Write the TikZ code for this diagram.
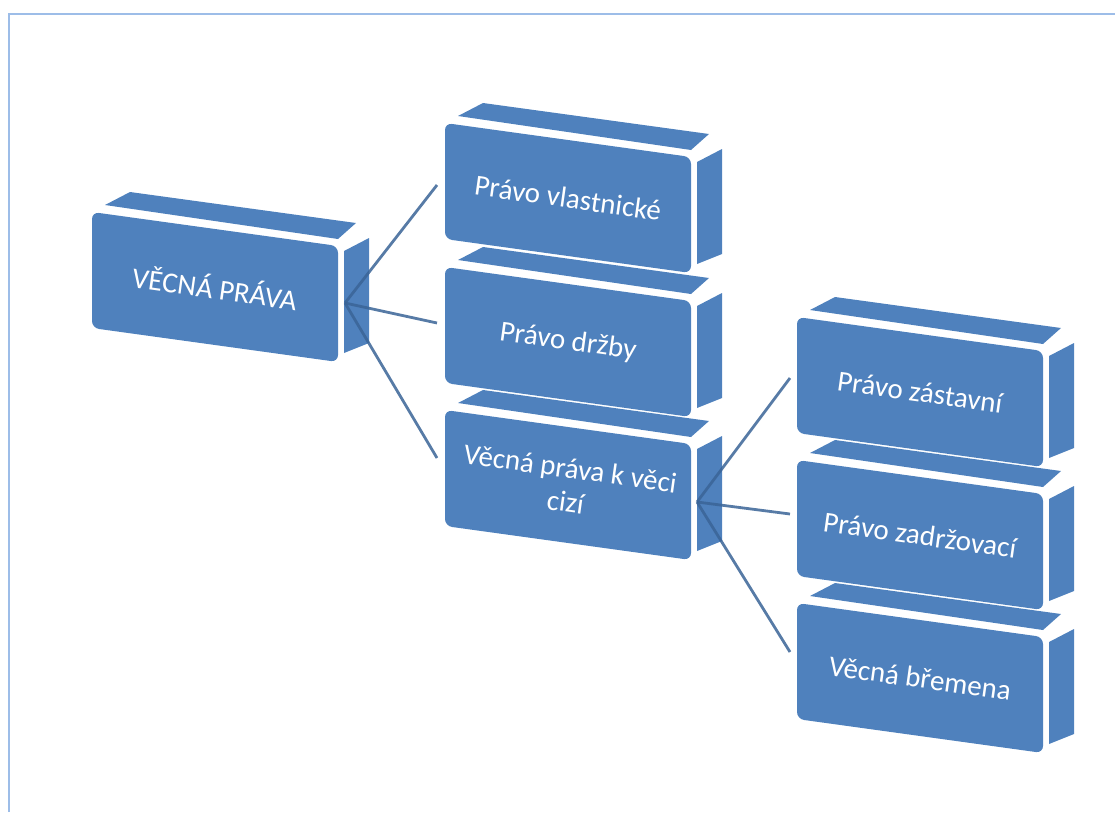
\documentclass[tikz,border=0pt]{standalone}
\usepackage{fontspec}
\setmainfont{Carlito}
\definecolor{boxblue}{HTML}{4F81BD}
\definecolor{linkblue}{HTML}{3A6497}
\definecolor{framecol}{HTML}{9DBDE8}
\newcommand{\cubebox}[4]{%
  \fill[boxblue] (#2+13,#3-7) -- (#2+38,#3-20) -- (#2+264,#3+11) -- (#2+246,#3+27) -- cycle;
  \fill[boxblue] (#2+252,#3+39) -- (#2+277,#3+26) -- (#2+277,#3+131) -- (#2+252,#3+141) -- cycle;
  \fill[boxblue, rounded corners=7] (#2,#3) -- (#2+246,#3+34) -- (#2+246,#3+150) -- (#2,#3+116) -- cycle;
  \node[boxtext] (#1) at (#2+123,#3+75) {#4};
}
\begin{document}
\begin{tikzpicture}[x=1pt,y=-1pt,
  boxtext/.style={text=white, font=\fontsize{29}{34}\selectfont, rotate=-8, align=center, inner sep=0pt},
  link/.style={draw=linkblue, line width=2.8pt, draw opacity=0.85}]
\useasboundingbox (0,0) rectangle (1115,812);
\draw[framecol, line width=2pt] (8.5,812) -- (8.5,13.5) -- (1115,13.5);
% column 1
\cubebox{root}{92}{212}{VĚCNÁ PRÁVA}
% column 2
\cubebox{vl}{445}{123}{Právo vlastnické}
\cubebox{dr}{445}{267}{Právo držby}
\cubebox{ci}{445}{410}{Věcná práva k věci\\cizí}
% column 3
\cubebox{za}{797}{317}{Právo zástavní}
\cubebox{zd}{797}{460}{Právo zadržovací}
\cubebox{br}{797}{603}{Věcná břemena}
% connector ends
\coordinate (s1) at (345,303);
\coordinate (e1) at (437,185);
\coordinate (e2) at (437,323);
\coordinate (e3) at (437,458);
\coordinate (s2) at (697,502);
\coordinate (f1) at (790,378);
\coordinate (f2) at (790,514);
\coordinate (f3) at (790,652);
\draw[link] (s1) -- (e1);
\draw[link] (s1) -- (e2);
\draw[link] (s1) -- (e3);
\draw[link] (s2) -- (f1);
\draw[link] (s2) -- (f2);
\draw[link] (s2) -- (f3);
\end{tikzpicture}
\end{document}
